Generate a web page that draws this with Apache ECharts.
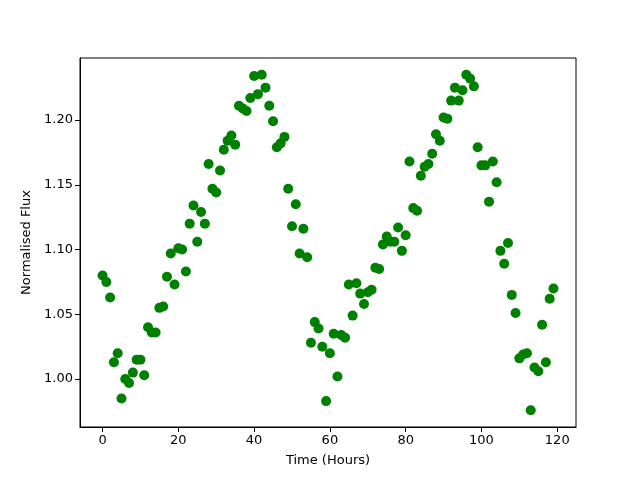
<!DOCTYPE html>
<html>
<head>
<meta charset="utf-8">
<script src="https://cdn.jsdelivr.net/npm/echarts@6/dist/echarts.min.js"></script>
<style>
    html, body { margin: 0; padding: 0; background: #fff; }
    #container { width: 640px; height: 480px; }
</style>
</head>
<body>
<div id="container"></div>
<script>
// hours 0..119, one reading per hour
var hours = [];
for (var h = 0; h < 120; h++) hours.push(h);

var flux = [
    1.080, 1.075, 1.063, 1.013, 1.020, 0.985, 1.000, 0.997, 1.005, 1.015,
    1.015, 1.003, 1.040, 1.036, 1.036, 1.055, 1.056, 1.079, 1.097, 1.073,
    1.101, 1.100, 1.083, 1.120, 1.134, 1.106, 1.129, 1.120, 1.166, 1.147,
    1.144, 1.161, 1.177, 1.184, 1.188, 1.181, 1.211, 1.209, 1.207, 1.217,
    1.234, 1.220, 1.235, 1.225, 1.211, 1.199, 1.179, 1.182, 1.187, 1.147,
    1.118, 1.135, 1.097, 1.116, 1.094, 1.028, 1.044, 1.039, 1.025, 0.983,
    1.020, 1.035, 1.002, 1.034, 1.032, 1.073, 1.049, 1.074, 1.066, 1.058,
    1.067, 1.069, 1.086, 1.085, 1.104, 1.110, 1.106, 1.106, 1.117, 1.099,
    1.111, 1.168, 1.132, 1.130, 1.157, 1.164, 1.166, 1.174, 1.189, 1.184,
    1.202, 1.201, 1.215, 1.225, 1.215, 1.223, 1.235, 1.232, 1.226, 1.179,
    1.165, 1.165, 1.137, 1.168, 1.152, 1.099, 1.089, 1.105, 1.065, 1.051,
    1.016, 1.019, 1.020, 0.976, 1.009, 1.006, 1.042, 1.013, 1.062, 1.070
];

var xTicks = [0, 20, 40, 60, 80, 100, 120];
var yTicks = [1.00, 1.05, 1.10, 1.15, 1.20];

var points = hours.map(function (t, i) { return [t, flux[i]]; });

var chart = echarts.init(document.getElementById('container'), null, { renderer: 'canvas' });

var font = 'DejaVu Sans';

var option = {
    animation: false,
    backgroundColor: '#fff',
    grid: {
        left: 80, right: 64, top: 58, bottom: 53,
        show: true, borderColor: '#000', borderWidth: 1
    },
    xAxis: {
        type: 'value',
        min: -5.95,
        max: 124.95,
        name: 'Time (Hours)',
        nameLocation: 'middle',
        nameGap: 27,
        nameTextStyle: { color: '#000', fontFamily: font, fontSize: 13 },
        axisLine: { show: true, onZero: false, lineStyle: { color: '#000' } },
        axisTick: { show: true, length: 5, lineStyle: { color: '#000' }, customValues: xTicks },
        axisLabel: { color: '#000', fontFamily: font, fontSize: 13, margin: 7, customValues: xTicks },
        splitLine: { show: false }
    },
    yAxis: {
        type: 'value',
        min: 0.963,
        max: 1.2479,
        name: 'Normalised Flux',
        nameLocation: 'middle',
        nameGap: 46,
        nameTextStyle: { color: '#000', fontFamily: font, fontSize: 13 },
        axisLine: { show: true, onZero: false, lineStyle: { color: '#000' } },
        axisTick: { show: true, length: 5, lineStyle: { color: '#000' }, customValues: yTicks },
        axisLabel: {
            color: '#000', fontFamily: font, fontSize: 13, margin: 7,
            customValues: yTicks,
            formatter: function (v) { return v.toFixed(2); }
        },
        splitLine: { show: false }
    },
    series: [
        {
            type: 'scatter',
            data: points,
            symbol: 'circle',
            symbolSize: 10,
            itemStyle: { color: '#008000', opacity: 1 }
        }
    ]
};

chart.setOption(option);
</script>
</body>
</html>
